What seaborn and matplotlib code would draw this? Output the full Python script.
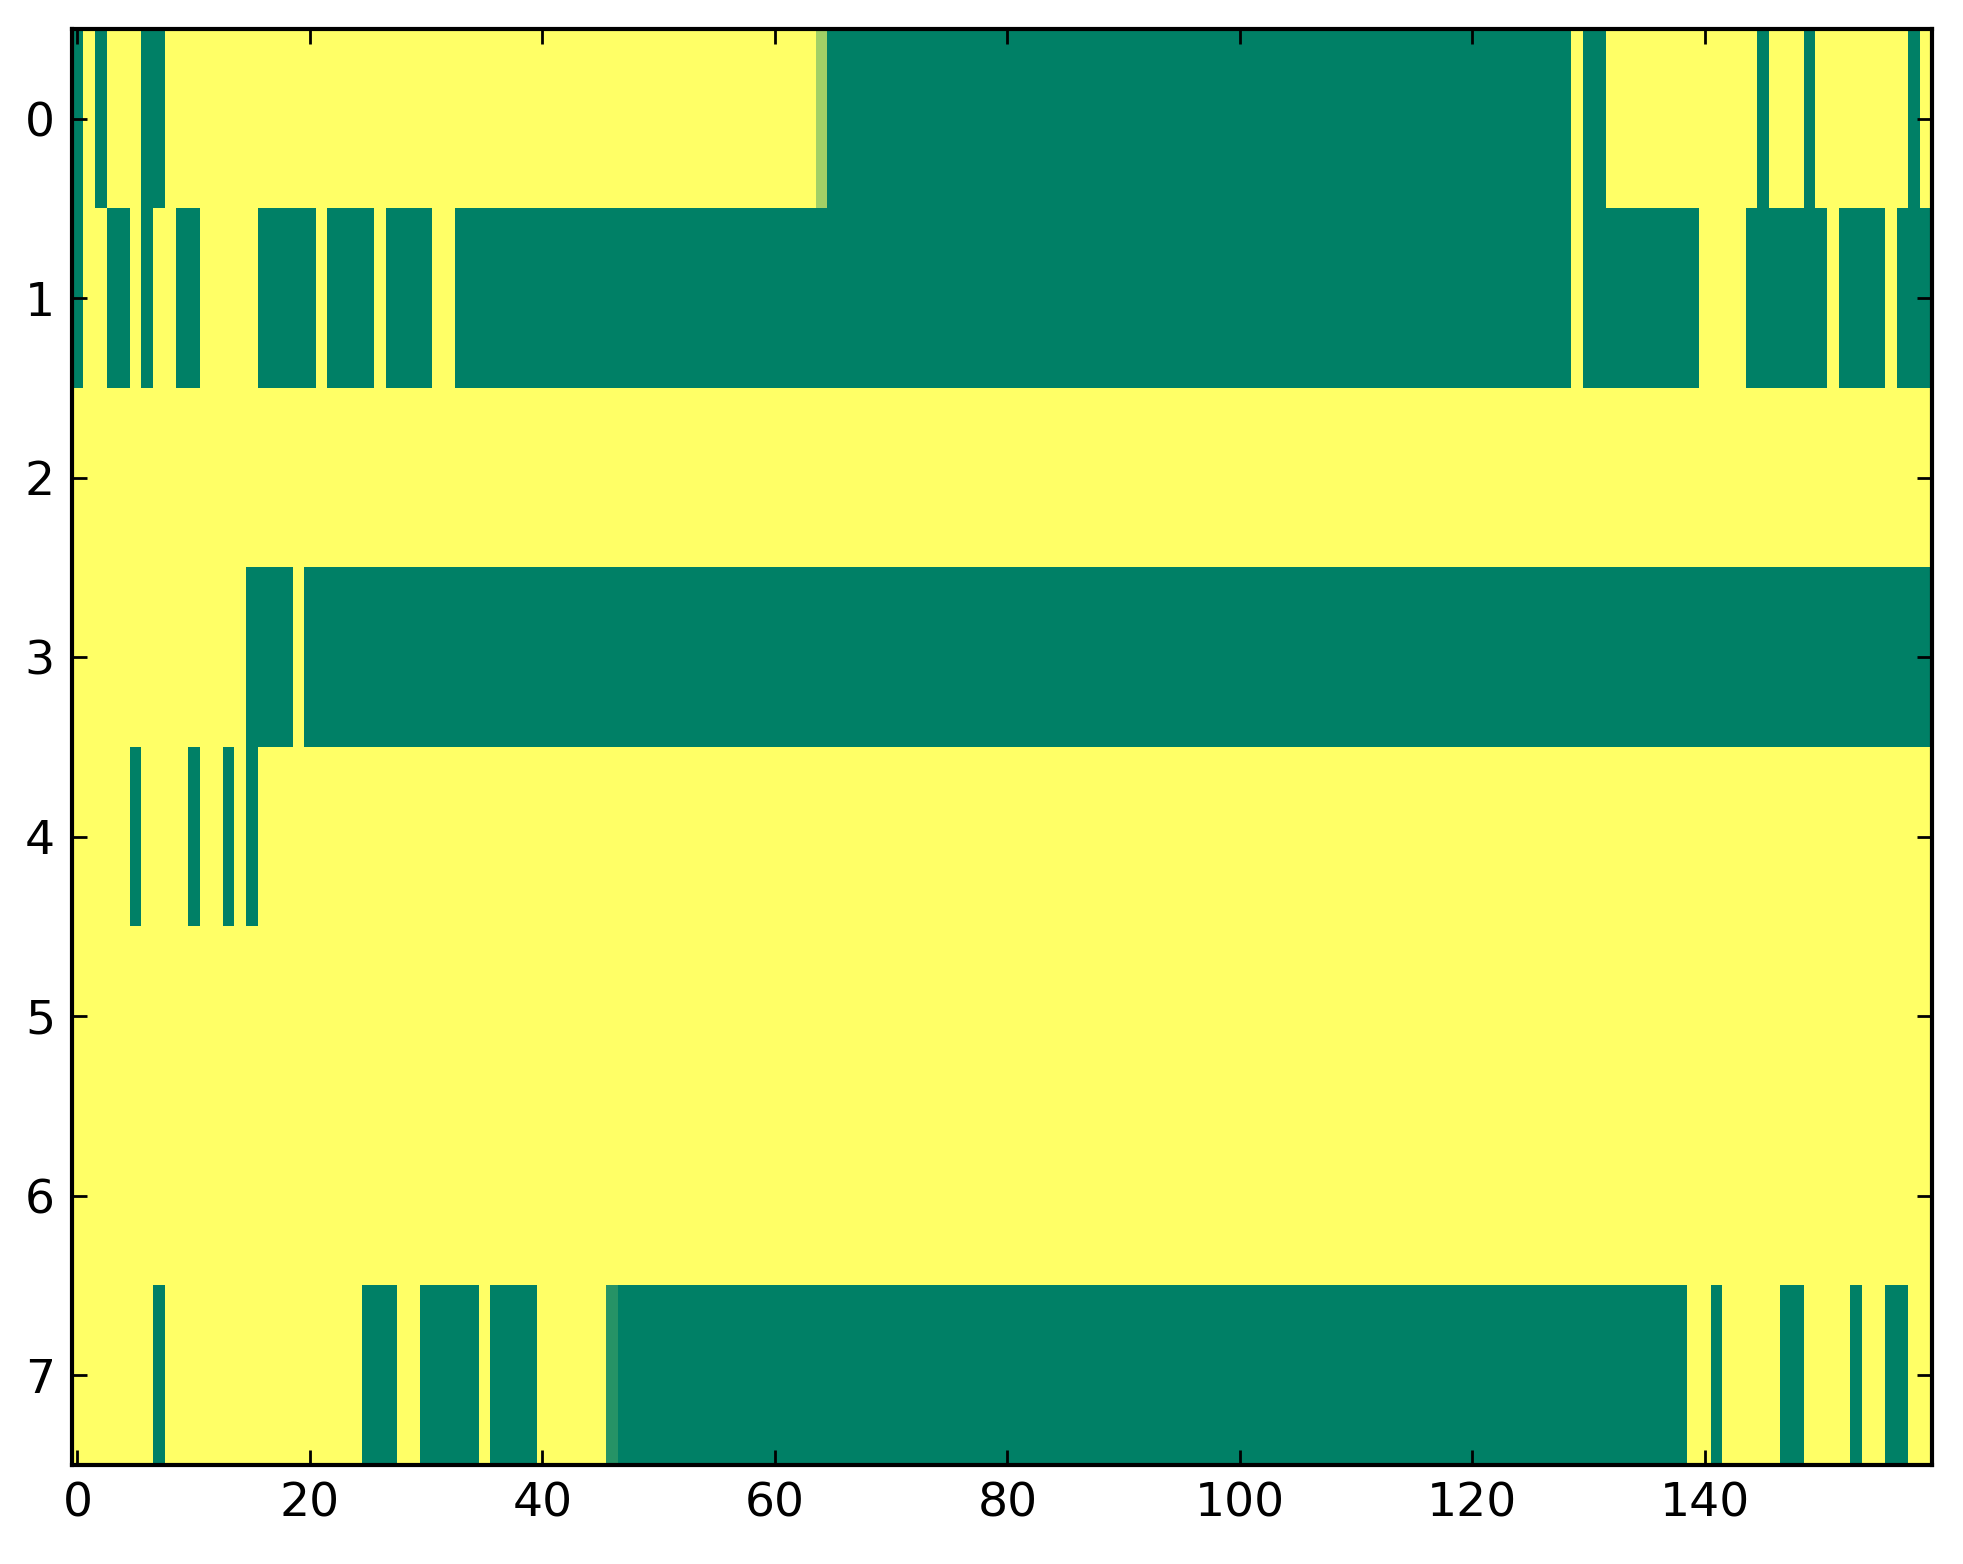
import numpy as np
import pandas as pd
import matplotlib
matplotlib.use("Agg")
import matplotlib.pyplot as plt
import seaborn as sns

# Run-length encoded rows: (value, number of consecutive columns)
row0 = [(0,1),(1,1),(0,1),(1,3),(0,2),(1,56),(0.63,1),(0,64),(1,1),(0,2),(1,13),(0,1),(1,3),(0,1),(1,8),(0,1),(1,1)]
row1 = [(0,1),(1,2),(0,2),(1,1),(0,1),(1,2),(0,2),(1,5),(0,5),(1,1),(0,4),(1,1),(0,4),(1,2),(0,96),(1,1),(0,10),(1,4),(0,7),(1,1),(0,4),(1,1),(0,3)]
row2 = [(1,160)]
row3 = [(1,15),(0,4),(1,1),(0,140)]
row4 = [(1,5),(0,1),(1,4),(0,1),(1,2),(0,1),(1,1),(0,1),(1,144)]
row5 = [(1,160)]
row6 = [(1,160)]
row7 = [(1,7),(0,1),(1,17),(0,3),(1,2),(0,5),(1,1),(0,4),(1,6),(0.15,1),(0,92),(1,2),(0,1),(1,5),(0,2),(1,4),(0,1),(1,2),(0,2),(1,2)]

rows = [row0, row1, row2, row3, row4, row5, row6, row7]
x_tick_values = [0, 20, 40, 60, 80, 100, 120, 140]
y_tick_values = [0, 1, 2, 3, 4, 5, 6, 7]

def expand(runs):
    out = []
    for v, n in runs:
        out.extend([v] * n)
    return out

data = pd.DataFrame([expand(r) for r in rows])

plt.rcParams['font.family'] = ['DejaVu Sans']
fig = plt.figure(figsize=(1963/200, 1564/200), dpi=200)
ax = fig.add_axes([0.0365, 0.0633, 0.984 - 0.0365, 0.9815 - 0.0633])

sns.heatmap(data, cmap='summer', vmin=0, vmax=1, cbar=False, ax=ax,
            xticklabels=False, yticklabels=False)

ax.set_xticks(np.array(x_tick_values) + 0.5)
ax.set_xticklabels([str(v) for v in x_tick_values], rotation=0)
ax.set_yticks(np.array(y_tick_values) + 0.5)
ax.set_yticklabels([str(v) for v in y_tick_values], rotation=0)

for s in ax.spines.values():
    s.set_visible(True)
    s.set_linewidth(1.5)
    s.set_color('black')

ax.tick_params(direction='in', top=True, right=True, bottom=True, left=True,
               length=5.4, width=1.0, labelsize=17, pad=6, colors='black')

fig.savefig('out.png', dpi=200)
